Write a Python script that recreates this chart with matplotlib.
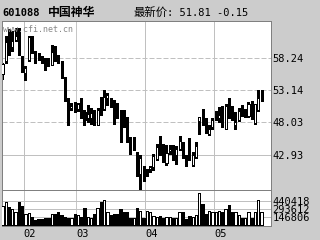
import matplotlib
matplotlib.use('Agg')
import matplotlib.pyplot as plt
import numpy as np

plt.rcParams['font.family'] = ['DejaVu Sans Mono', 'Noto Sans CJK SC']

# daily candles, 2008-01-23 .. 2008-05
opens = [55.68, 57.81, 60.90, 59.94, 61.16, 62.76, 58.34, 55.84, 57.97, 61.50,
         59.04, 58.50, 58.30, 57.80, 57.97, 57.17, 59.30, 57.97, 57.55, 55.15,
         51.59, 50.26, 50.36, 50.15, 51.32, 49.73, 48.66, 48.66, 49.09, 47.70,
         51.22, 50.15, 51.96, 51.70, 49.99, 49.99, 48.80, 48.66, 48.77, 44.41,
         44.30, 43.24, 39.89, 40.58, 40.05, 40.58, 40.95, 42.28, 44.68, 43.88,
         41.64, 43.45, 42.95, 42.92, 43.77, 44.84, 42.39, 45.63, 41.32, 42.55,
         48.29, 48.66, 47.49, 46.27, 47.33, 48.93, 48.66, 49.20, 47.07, 50.90,
         49.03, 47.60, 48.40, 49.83, 49.30, 49.09, 50.68, 48.02, 49.99, 51.70]
highs = [57.40, 61.70, 62.76, 62.50, 63.00, 63.00, 58.50, 56.90, 61.70, 61.70,
         59.30, 59.00, 58.60, 58.24, 58.24, 60.37, 60.10, 58.77, 57.80, 55.30,
         51.85, 51.06, 51.32, 51.10, 51.85, 49.99, 50.80, 50.26, 49.99, 50.26,
         52.12, 53.18, 52.65, 51.85, 51.59, 51.06, 49.99, 49.99, 48.93, 45.74,
         45.74, 43.30, 42.80, 41.20, 40.68, 41.20, 43.08, 44.68, 45.90, 44.68,
         44.52, 44.41, 44.41, 44.30, 45.90, 44.94, 42.81, 45.63, 43.34, 44.94,
         48.82, 50.15, 48.66, 47.70, 48.66, 49.83, 50.52, 50.68, 50.90, 51.85,
         50.68, 49.73, 50.26, 50.79, 50.20, 51.32, 51.43, 51.00, 53.18, 53.18]
lows = [54.94, 57.44, 58.77, 59.30, 60.90, 58.66, 56.10, 54.78, 57.80, 59.00,
        57.44, 58.00, 57.44, 56.37, 56.90, 57.07, 57.70, 57.44, 55.05, 51.43,
        47.60, 50.00, 49.73, 49.90, 48.66, 47.60, 48.13, 47.86, 47.60, 47.60,
        49.20, 49.99, 50.79, 50.52, 47.86, 48.66, 44.94, 47.33, 44.94, 43.08,
        43.61, 39.60, 37.49, 38.82, 39.62, 40.15, 40.42, 42.01, 42.81, 41.75,
        41.32, 43.08, 42.01, 41.48, 43.61, 42.39, 41.21, 42.01, 41.21, 42.39,
        46.27, 47.60, 46.43, 46.11, 47.07, 48.40, 48.13, 47.33, 46.96, 48.66,
        48.40, 47.07, 48.24, 49.09, 48.90, 48.93, 48.56, 47.86, 49.83, 51.43]
closes = [57.28, 60.79, 60.36, 60.90, 61.70, 58.77, 56.38, 56.64, 61.50, 59.57,
          58.34, 58.40, 58.20, 56.50, 57.17, 59.14, 58.77, 57.90, 55.15, 51.59,
          49.73, 50.70, 50.30, 50.90, 49.99, 48.40, 49.30, 49.46, 47.86, 49.99,
          49.83, 52.01, 52.44, 50.68, 48.82, 49.95, 48.77, 47.86, 45.05, 43.98,
          44.30, 39.73, 42.39, 39.73, 40.10, 40.95, 42.71, 44.14, 44.41, 42.01,
          43.24, 43.88, 42.92, 43.88, 45.05, 42.81, 41.48, 42.28, 42.81, 44.30,
          48.82, 48.02, 46.64, 47.07, 48.34, 49.09, 49.20, 47.60, 50.68, 49.99,
          48.66, 48.13, 49.83, 49.20, 49.50, 51.00, 48.66, 50.90, 51.96, 51.81]
volumes = [354000, 417000, 336000, 294000, 233000, 417000, 354000, 196000, 215000, 152000,
           83000, 110000, 110000, 128000, 123000, 196000, 196000, 244000, 184000, 147000,
           134000, 134000, 196000, 184000, 147000, 306000, 147000, 123000, 196000, 317000,
           417000, 453000, 244000, 184000, 196000, 196000, 294000, 233000, 244000, 134000,
           134000, 317000, 257000, 134000, 257000, 244000, 171000, 147000, 171000, 123000,
           152000, 147000, 123000, 134000, 244000, 244000, 110000, 171000, 152000, 184000,
           582000, 380000, 196000, 257000, 244000, 244000, 257000, 244000, 294000, 367000,
           244000, 233000, 184000, 134000, 134000, 244000, 123000, 244000, 453000, 244000]

month_labels = ['02', '03', '04', '05']
month_start = [7, 23, 44, 65]
price_ticks = [58.24, 53.14, 48.03, 42.93]
vol_ticks = [146806, 293612, 440418]

bg = '#cccccc'
grid_c = '#c0c0c0'
border_c = '#808080'

fig = plt.figure(figsize=(3.2, 2.4), dpi=100, facecolor=bg)
W, H = 320.0, 240.0
ax = fig.add_axes([2 / W, (H - 190) / H, 269 / W, 169 / H])
axv = fig.add_axes([2 / W, (H - 226) / H, 269 / W, 36 / H], sharex=ax)

idx = np.arange(len(opens))
o = np.array(opens); c = np.array(closes)
up = c >= o
cols = np.where(up, 'white', 'black')

for a in (ax, axv):
    a.set_facecolor('white')
    for s in a.spines.values():
        s.set_color(border_c)
        s.set_linewidth(0.72)
        s.set_linestyle((0, (1, 1)))
    for i, m in enumerate(month_start):
        if i == 1:
            a.axvline(m - 0.5, color='#909090', lw=0.72, ls=(0, (1, 1)), zorder=1)
        else:
            a.axvline(m - 0.5, color=grid_c, lw=0.72, zorder=1)

# price grid
for p in price_ticks[:-1]:
    ax.axhline(p, color=grid_c, lw=0.72, ls=(0, (5, 2)), zorder=1)
ax.axhline(price_ticks[-1], color=grid_c, lw=0.72, zorder=1)

# candles
ax.vlines(idx, lows, highs, color='black', lw=0.8, zorder=2, antialiased=False)
ax.bar(idx, np.abs(c - o), bottom=np.minimum(o, c), width=0.62, color=cols,
       edgecolor='black', linewidth=0.72, zorder=3, antialiased=False)

ax.set_xlim(-0.15, 81.86)
ax.set_ylim(37.33, 64.10)
ax.yaxis.tick_right()
ax.set_yticks(price_ticks)
ax.set_yticklabels(['%.2f' % p for p in price_ticks])
ax.tick_params(axis='y', length=0, pad=1, labelsize=7.5, colors='black')
ax.tick_params(axis='x', length=0, labelbottom=False)

ax.text(0.004, 0.975, 'www.cfi.net.cn', transform=ax.transAxes, fontsize=6,
        color='#888888', ha='left', va='top')

# volume
for v in vol_ticks:
    axv.axhline(v, color=grid_c, lw=0.72, zorder=1)
axv.bar(idx, volumes, width=0.7, color=cols, edgecolor='black', linewidth=0.72,
        zorder=3, antialiased=False)
axv.set_ylim(-18351, 642276)
axv.yaxis.tick_right()
axv.set_yticks(vol_ticks)
axv.set_yticklabels([str(v) for v in vol_ticks])
axv.tick_params(axis='y', length=0, pad=1, labelsize=7.5)
axv.set_xticks([m - 0.5 for m in month_start])
axv.set_xticklabels(month_labels, ha='left')
axv.tick_params(axis='x', length=0, pad=2, labelsize=7.5)

# title bar
fig.text(2 / W, 1 - 15.5 / H, '601088', fontsize=7.5, fontweight='bold',
         va='baseline', ha='left')
fig.text(48 / W, 1 - 15.5 / H, '中国神华', fontsize=8.6, fontweight='bold',
         family='Noto Sans CJK SC', va='baseline', ha='left')
fig.text(133 / W, 1 - 15.5 / H, '最新价', fontsize=8.2,
         family='Noto Sans CJK SC', va='baseline', ha='left')
fig.text(167 / W, 1 - 15.5 / H, ': 51.81 -0.15', fontsize=7.5,
         va='baseline', ha='left')

fig.savefig('out.png', dpi=100, facecolor=bg)
